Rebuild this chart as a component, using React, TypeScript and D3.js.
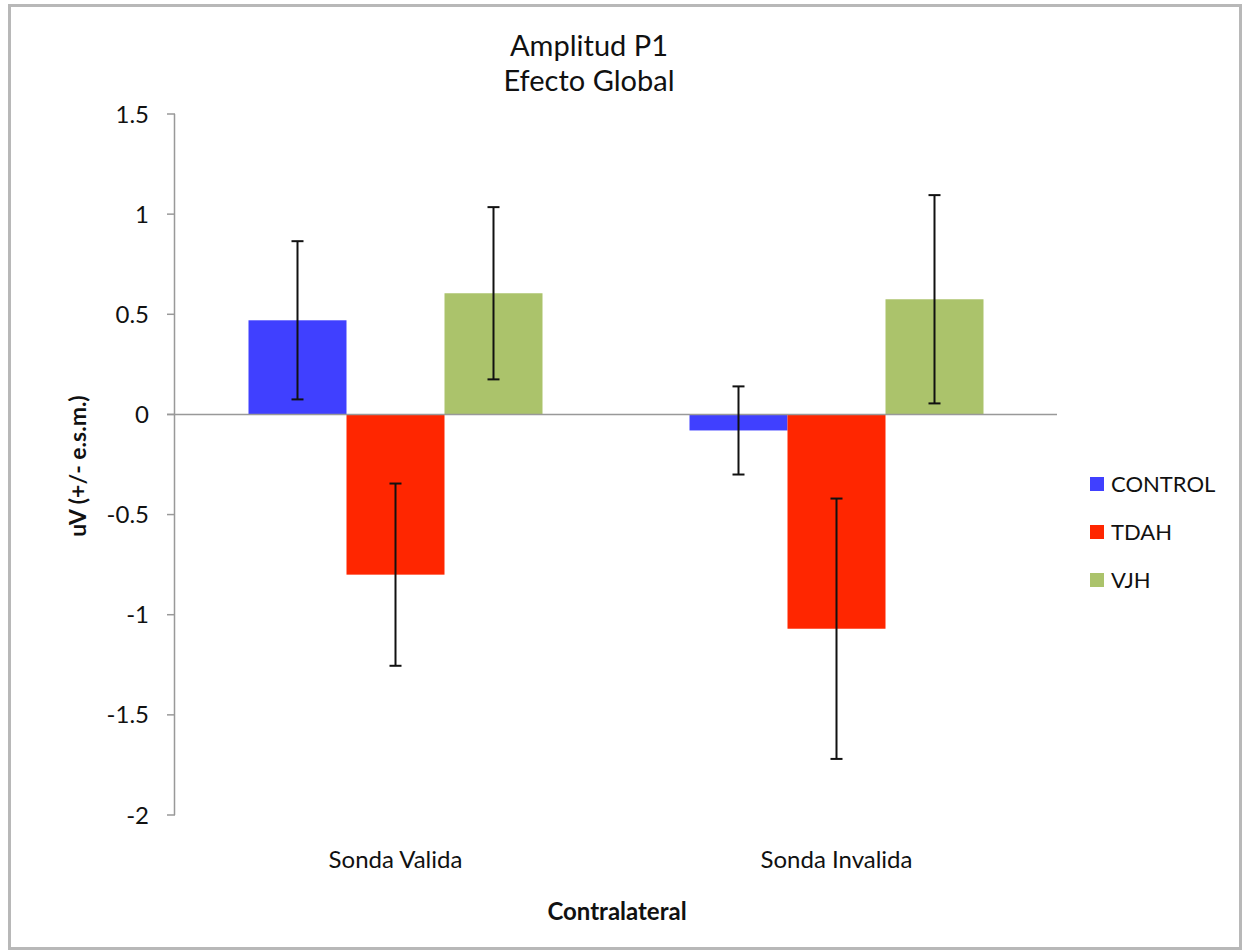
import React from "react";
import * as d3 from "d3";

const categories = ["Sonda Valida", "Sonda Invalida"];
const seriesNames = ["CONTROL", "TDAH", "VJH"];
const seriesColors = ["#4040ff", "#ff2600", "#abc36b"];
const controlValues = [0.47, -0.08];
const tdahValues = [-0.8, -1.07];
const vjhValues = [0.605, 0.575];
const controlErrors = [0.395, 0.22];
const tdahErrors = [0.455, 0.65];
const vjhErrors = [0.43, 0.52];
const yTicks = [1.5, 1, 0.5, 0, -0.5, -1, -1.5, -2];

const seriesValues = [controlValues, tdahValues, vjhValues];
const seriesErrors = [controlErrors, tdahErrors, vjhErrors];

const W = 1243;
const H = 951;
const FONT = "Lato, 'Open Sans', sans-serif";

export default function App() {
  const x0 = d3.scaleBand<string>().domain(categories).range([175, 1057]).paddingInner(0).paddingOuter(0);
  const x1 = d3
    .scaleBand<string>()
    .domain(seriesNames)
    .range([0, x0.bandwidth()])
    .paddingInner(0)
    .paddingOuter(0.75);
  const y = d3.scaleLinear().domain([-2, 1.5]).range([815, 114]);
  const fmt = (v: number) => (v === 0 ? "0" : String(v));

  return (
    <svg
      width={W}
      height={H}
      style={{ position: "absolute", left: 0, top: 0, background: "#fff" }}
      fontFamily={FONT}
    >
      <rect x={9.5} y={5.5} width={1231} height={943} fill="#fff" stroke="#b8b8b8" strokeWidth={3} />
      <text x={589} y={56} textAnchor="middle" fontSize={29} fill="#111">Amplitud P1</text>
      <text x={589} y={91} textAnchor="middle" fontSize={29} fill="#111">Efecto Global</text>

      {/* bars */}
      {seriesNames.map((s, si) =>
        categories.map((c, ci) => {
          const v = seriesValues[si][ci];
          const bx = (x0(c) as number) + (x1(s) as number);
          const y0 = y(0);
          const yv = y(v);
          return (
            <rect
              key={s + c}
              x={bx}
              y={Math.min(y0, yv)}
              width={x1.bandwidth()}
              height={Math.abs(yv - y0)}
              fill={seriesColors[si]}
            />
          );
        })
      )}

      {/* axes */}
      <line x1={174.5} x2={174.5} y1={y(1.5)} y2={y(-2)} stroke="#999" strokeWidth={1.5} />
      {yTicks.map((t) => (
        <g key={t}>
          <line x1={167} x2={175} y1={y(t)} y2={y(t)} stroke="#999" strokeWidth={1.5} />
          <text x={149} y={y(t)} dy="0.36em" textAnchor="end" fontSize={24} fill="#111">
            {fmt(t)}
          </text>
        </g>
      ))}
      <line x1={167} x2={1057} y1={y(0)} y2={y(0)} stroke="#999" strokeWidth={1.5} />

      {/* error bars */}
      {seriesNames.map((s, si) =>
        categories.map((c, ci) => {
          const v = seriesValues[si][ci];
          const e = seriesErrors[si][ci];
          const cx = (x0(c) as number) + (x1(s) as number) + x1.bandwidth() / 2;
          return (
            <g key={"e" + s + c} stroke="#111" strokeWidth={2}>
              <line x1={cx} x2={cx} y1={y(v + e)} y2={y(v - e)} />
              <line x1={cx - 6} x2={cx + 6} y1={y(v + e)} y2={y(v + e)} />
              <line x1={cx - 6} x2={cx + 6} y1={y(v - e)} y2={y(v - e)} />
            </g>
          );
        })
      )}

      {categories.map((c) => (
        <text
          key={c}
          x={(x0(c) as number) + x0.bandwidth() / 2}
          y={868}
          textAnchor="middle"
          fontSize={24}
          fill="#111"
        >
          {c}
        </text>
      ))}
      <text x={617} y={920} textAnchor="middle" fontSize={24} fontWeight="bold" fill="#111">
        Contralateral
      </text>
      <text
        transform={`translate(86,466) rotate(-90)`}
        textAnchor="middle"
        fontSize={23}
        fontWeight="bold"
        fill="#111"
      >
        uV (+/- e.s.m.)
      </text>

      {/* legend */}
      {seriesNames.map((s, i) => (
        <g key={"l" + s} transform={`translate(1090,${484 + i * 48})`}>
          <rect x={0} y={-7} width={14} height={14} fill={seriesColors[i]} />
          <text x={21} y={0} dy="0.36em" fontSize={22} fill="#111">
            {s}
          </text>
        </g>
      ))}
    </svg>
  );
}
